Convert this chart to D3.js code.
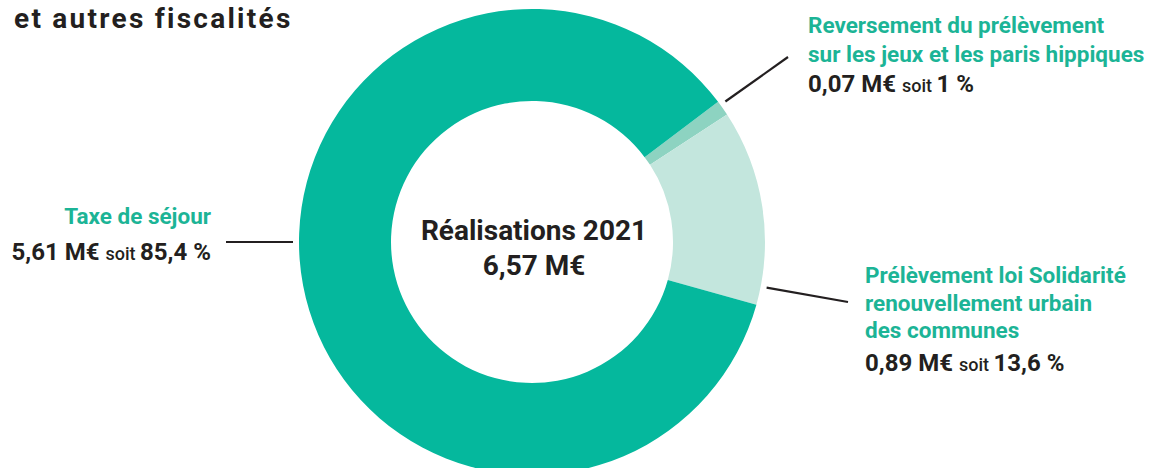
<!DOCTYPE html>
<html lang="fr">
<head>
<meta charset="utf-8">
<script src="https://cdn.jsdelivr.net/npm/d3@7"></script>
<style>
  html, body { margin: 0; padding: 0; background: #ffffff; }
  svg { display: block; font-family: Roboto, "Noto Sans", sans-serif; }
</style>
</head>
<body>
<div id="chart"></div>
<script>
// donut des recettes : taxe de sejour et autres fiscalites
const categories = [
  ["Reversement du prélèvement", "sur les jeux et les paris hippiques"],
  ["Prélèvement loi Solidarité", "renouvellement urbain", "des communes"],
  ["Taxe de séjour"],
];
const values = [0.07, 0.89, 5.61];
const amountLabels = ["0,07 M€", "0,89 M€", "5,61 M€"];
const shareLabels = ["1 %", "13,6 %", "85,4 %"];
const sliceColors = ["#8dd3c1", "#c3e6dd", "#05b89d"];
const centerLines = ["Réalisations 2021", "6,57 M€"];

const W = 1156, H = 468;
const cx = 532, cy = 242, R = 233, r = 141;
const rad = (deg) => (deg * Math.PI) / 180;

const TEAL = "#1cb496";
const DARK = "#231f20";

// ou vont les etiquettes (angle du trait, fin du trait, texte)
const layout = [
  { angle: 54, end: [788, 57], x: 808, y: 33, anchor: "start", lineGap: 29, extra: 1 },
  { angle: 101, end: [848, 302], x: 865, y: 283, anchor: "start", lineGap: 27.5, extra: 5.5 },
  { angle: 270, end: [226, 242], x: 211, y: 224, anchor: "end", lineGap: 36, extra: 0 },
];

const svg = d3.select("#chart").append("svg").attr("width", W).attr("height", H);

const title = svg.append("text")
  .attr("x", 14)
  .attr("y", 28)
  .attr("fill", DARK)
  .attr("font-size", 28)
  .attr("font-weight", 700)
  .text("et autres fiscalités");
// la police d'origine est plus large : on espace un peu les lettres
const tw = title.node().getComputedTextLength();
title.attr("letter-spacing", Math.max(0, (276 - tw) / 19).toFixed(2));

const pie = d3.pie().sort(null).value((d) => d).startAngle(rad(53)).endAngle(rad(53) + 2 * Math.PI);
const arc = d3.arc().innerRadius(r).outerRadius(R);

const g = svg.append("g").attr("transform", `translate(${cx},${cy})`);
g.selectAll("path")
  .data(pie(values))
  .join("path")
  .attr("d", arc)
  .attr("fill", (d, i) => sliceColors[i]);

g.selectAll("text.center")
  .data(centerLines)
  .join("text")
  .attr("class", "center")
  .attr("text-anchor", "middle")
  .attr("x", 2)
  .attr("y", (d, i) => -2 + i * 35)
  .attr("fill", DARK)
  .attr("font-size", 28)
  .attr("font-weight", 700)
  .text((d) => d);

categories.forEach((lines, i) => {
  const L = layout[i];
  const a = rad(L.angle);
  const r0 = R + 6;
  svg.append("line")
    .attr("x1", cx + Math.sin(a) * r0)
    .attr("y1", cy - Math.cos(a) * r0)
    .attr("x2", L.end[0])
    .attr("y2", L.end[1])
    .attr("stroke", DARK)
    .attr("stroke-width", 2.2);

  const t = svg.append("g");
  lines.forEach((s, k) => {
    t.append("text")
      .attr("x", L.x)
      .attr("y", L.y + k * L.lineGap)
      .attr("text-anchor", L.anchor)
      .attr("fill", TEAL)
      .attr("font-size", 22.5)
      .attr("font-weight", 700)
      .text(s);
  });
  const last = t.append("text")
    .attr("x", L.x)
    .attr("y", L.y + lines.length * L.lineGap + L.extra)
    .attr("text-anchor", L.anchor)
    .attr("fill", DARK)
    .attr("font-weight", 700)
    .attr("font-size", 24);
  last.append("tspan").text(amountLabels[i] + " ");
  last.append("tspan").attr("font-size", 18).attr("font-weight", 500).text("soit ");
  last.append("tspan").text(shareLabels[i]);
});
</script>
</body>
</html>
